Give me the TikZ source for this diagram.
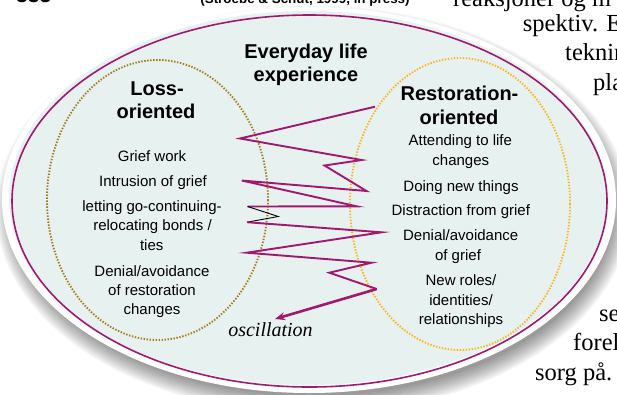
\documentclass[tikz,border=0pt]{standalone}
\usepackage{fontspec}
\setmainfont{Liberation Serif}
\setsansfont{Liberation Sans}
\usetikzlibrary{arrows.meta}
\definecolor{mag}{HTML}{A2186F}
\definecolor{mint}{HTML}{E7F2F0}
\definecolor{olivedot}{HTML}{A47A1C}
\definecolor{orangedot}{HTML}{FFB31A}
\tikzset{
  body/.style={font=\sffamily\fontsize{15}{19}\selectfont, inner sep=0pt, text height=11pt, text depth=3pt},
  head/.style={font=\sffamily\bfseries\fontsize{20}{24}\selectfont, inner sep=0pt, text height=14.5pt, text depth=4pt},
  pagetext/.style={font=\fontsize{24.5}{28}\selectfont, inner sep=0pt, anchor=base west},
  zig/.style={draw=mag, line width=1.9pt, line join=miter},
  dotline/.style={line width=1.9pt, dash pattern=on 1.4pt off 1.6pt},
}
\begin{document}
\begin{tikzpicture}[x=1pt,y=-1pt]
\useasboundingbox (0,0) rectangle (617,394);
\clip (0,0) rectangle (617,394);
% drop shadow
\foreach \i in {0,...,13}
  \fill[black, opacity=0.034] (313,210) ellipse [x radius={299+1.4*\i}, y radius={186+1.4*\i}];
% page text around the figure
\node[font=\sffamily\bfseries\fontsize{21}{24}\selectfont, inner sep=0pt, anchor=base west] (pg0) at (16,2.7) {333};
\node[font=\sffamily\bfseries\fontsize{13.4}{16}\selectfont, inner sep=0pt, anchor=base] (cite) at (305,3.5) {(Stroebe \& Schut, 1999, in press)};
\node[pagetext] (pg1) at (453,6.7) {reaksjoner og m};
\node[pagetext] (pg2) at (522.7,31.7) {spektiv. E};
\node[pagetext] (pg3) at (565,60) {teknin};
\node[pagetext] (pg4) at (593,90) {pla};
\node[pagetext] (pg5) at (599,321.7) {se};
\node[pagetext] (pg6) at (573,350) {forel};
\node[pagetext] (pg7) at (535,380) {sorg på.};
% white ring, mint fill, magenta outline
\fill[white] (309,200) ellipse [x radius=307, y radius=193];
\fill[mint] (308,198) ellipse [x radius=299, y radius=187];
\draw[mag, line width=1.6pt] (309.5,201) ellipse [x radius=297.5, y radius=186];
% dotted inner ellipses
\draw[olivedot, dotline] (157.5,200) ellipse [x radius=110.5, y radius=140];
\draw[orangedot, dotline] (460,204) ellipse [x radius=110, y radius=146];
% headings
\node[head] (evA) at (306,53) {Everyday life};
\node[head] (evB) at (306,76) {experience};
\node[head] (lossA) at (157,90) {Loss-};
\node[head] (lossB) at (156,113) {oriented};
\node[head] (restA) at (459.5,95) {Restoration-};
\node[head] (restB) at (459,119) {oriented};
% loss-oriented items
\node[body] (l1) at (152,157.3) {Grief work};
\node[body] (l2) at (153,182.7) {Intrusion of grief};
\node[body] (l3) at (152,207.7) {letting go-continuing-};
\node[body] (l4) at (152.5,226.7) {relocating bonds /};
\node[body] (l5) at (151.7,246.7) {ties};
\node[body] (l6) at (152,272.5) {Denial/avoidance};
\node[body] (l7) at (152,291.7) {of restoration};
\node[body] (l8) at (152,310.5) {changes};
% restoration-oriented items
\node[body] (r1) at (460.3,141.7) {Attending to life};
\node[body] (r2) at (460.8,161.7) {changes};
\node[body] (r3) at (461,187.3) {Doing new things};
\node[body] (r4) at (460.8,211.7) {Distraction from grief};
\node[body] (r5) at (460.7,236.7) {Denial/avoidance};
\node[body] (r6) at (458,256) {of grief};
\node[body] (r7) at (461,281.7) {New roles/};
\node[body] (r8) at (461,301) {identities/};
\node[body] (r9) at (461,320) {relationships};
% oscillation zigzag
\coordinate (z0) at (375,106.7);
\coordinate (z1) at (240,138.5);
\coordinate (z2) at (361.7,160);
\coordinate (z3) at (324.5,165.5);
\coordinate (z4) at (366.5,191);
\coordinate (z5) at (241.7,180.5);
\coordinate (z6) at (356.7,206.3);
\coordinate (z7) at (247.5,206.5);
\coordinate (z8) at (278.3,216.5);
\coordinate (z9) at (247,222.2);
\coordinate (z10) at (381.7,232.3);
\coordinate (z11) at (246.7,252.7);
\coordinate (z12) at (371.7,262.7);
\coordinate (z13) at (329.3,272.7);
\coordinate (z14) at (376.7,289);
\coordinate (z15) at (275,319);
\draw[zig] (z0) -- (z1) -- (z2) -- (z3) -- (z4) -- (z5) -- (z6) -- (z7);
\draw[black, line width=0.9pt] (z7) -- (z8) -- (z9);
\draw[zig] (z9) -- (z10) -- (z11) -- (z12) -- (z13) -- (z14);
\draw[draw=mag, line width=2.6pt, -{Stealth[length=10pt,width=8pt]}] (z14) -- (z15);
\node[font=\itshape\fontsize{20}{24}\selectfont, inner sep=0pt, anchor=base] (osc) at (270.5,336) {oscillation};
\end{tikzpicture}
\end{document}
